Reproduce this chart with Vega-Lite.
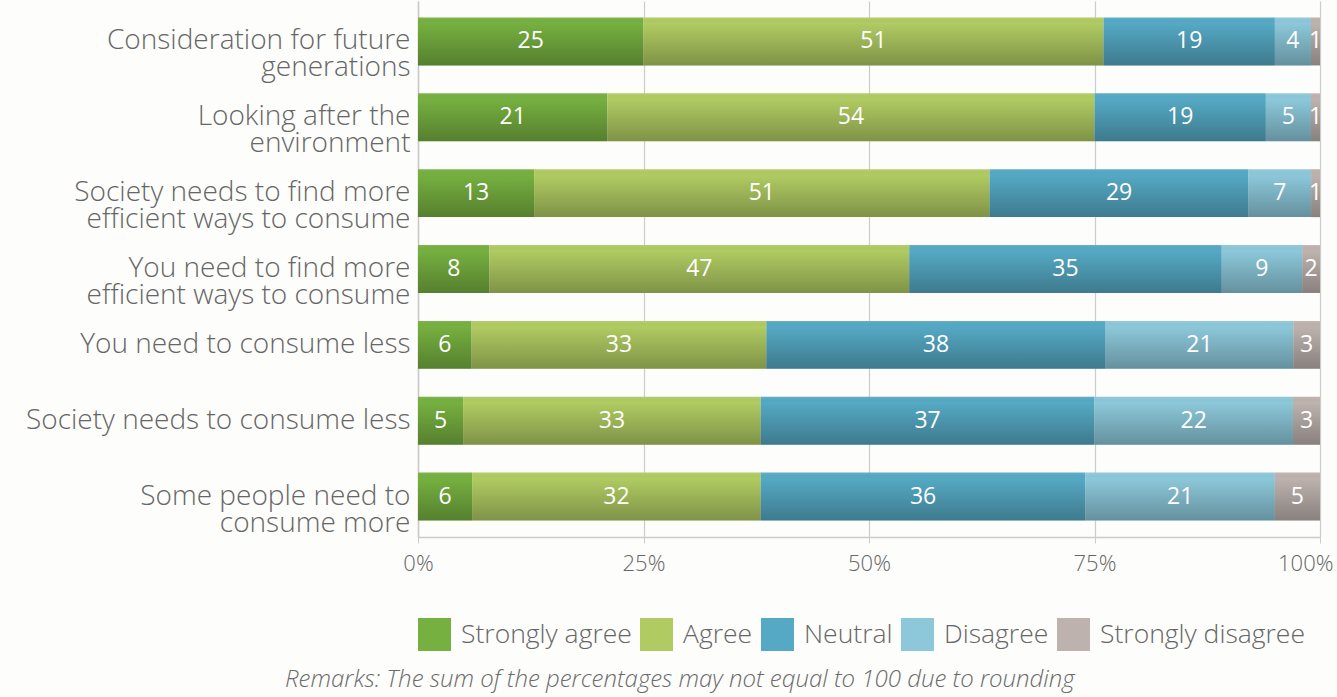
{
  "$schema": "https://vega.github.io/schema/vega-lite/v6.json",
  "width": 902,
  "height": 536,
  "autosize": {"type": "none"},
  "padding": {"left": 418, "top": 1, "right": 17, "bottom": 160},
  "background": "#fdfdfb",
  "title": {
    "text": "Remarks: The sum of the percentages may not equal to 100 due to rounding",
    "orient": "bottom", "anchor": "start", "frame": "group",
    "dx": -133, "offset": 17,
    "font": "Open Sans", "fontSize": 24, "fontStyle": "italic", "fontWeight": 300, "color": "#6b6b6b"
  },
  "config": {"view": {"stroke": null}},
  "data": {"values": [
    {"statement": "Consideration for future generations", "response": "Strongly agree", "pct": 25, "k": 1},
    {"statement": "Consideration for future generations", "response": "Agree", "pct": 51, "k": 2},
    {"statement": "Consideration for future generations", "response": "Neutral", "pct": 19, "k": 3},
    {"statement": "Consideration for future generations", "response": "Disagree", "pct": 4, "k": 4},
    {"statement": "Consideration for future generations", "response": "Strongly disagree", "pct": 1, "k": 5},
    {"statement": "Looking after the environment", "response": "Strongly agree", "pct": 21, "k": 1},
    {"statement": "Looking after the environment", "response": "Agree", "pct": 54, "k": 2},
    {"statement": "Looking after the environment", "response": "Neutral", "pct": 19, "k": 3},
    {"statement": "Looking after the environment", "response": "Disagree", "pct": 5, "k": 4},
    {"statement": "Looking after the environment", "response": "Strongly disagree", "pct": 1, "k": 5},
    {"statement": "Society needs to find more efficient ways to consume", "response": "Strongly agree", "pct": 13, "k": 1},
    {"statement": "Society needs to find more efficient ways to consume", "response": "Agree", "pct": 51, "k": 2},
    {"statement": "Society needs to find more efficient ways to consume", "response": "Neutral", "pct": 29, "k": 3},
    {"statement": "Society needs to find more efficient ways to consume", "response": "Disagree", "pct": 7, "k": 4},
    {"statement": "Society needs to find more efficient ways to consume", "response": "Strongly disagree", "pct": 1, "k": 5},
    {"statement": "You need to find more efficient ways to consume", "response": "Strongly agree", "pct": 8, "k": 1},
    {"statement": "You need to find more efficient ways to consume", "response": "Agree", "pct": 47, "k": 2},
    {"statement": "You need to find more efficient ways to consume", "response": "Neutral", "pct": 35, "k": 3},
    {"statement": "You need to find more efficient ways to consume", "response": "Disagree", "pct": 9, "k": 4},
    {"statement": "You need to find more efficient ways to consume", "response": "Strongly disagree", "pct": 2, "k": 5},
    {"statement": "You need to consume less", "response": "Strongly agree", "pct": 6, "k": 1},
    {"statement": "You need to consume less", "response": "Agree", "pct": 33, "k": 2},
    {"statement": "You need to consume less", "response": "Neutral", "pct": 38, "k": 3},
    {"statement": "You need to consume less", "response": "Disagree", "pct": 21, "k": 4},
    {"statement": "You need to consume less", "response": "Strongly disagree", "pct": 3, "k": 5},
    {"statement": "Society needs to consume less", "response": "Strongly agree", "pct": 5, "k": 1},
    {"statement": "Society needs to consume less", "response": "Agree", "pct": 33, "k": 2},
    {"statement": "Society needs to consume less", "response": "Neutral", "pct": 37, "k": 3},
    {"statement": "Society needs to consume less", "response": "Disagree", "pct": 22, "k": 4},
    {"statement": "Society needs to consume less", "response": "Strongly disagree", "pct": 3, "k": 5},
    {"statement": "Some people need to consume more", "response": "Strongly agree", "pct": 6, "k": 1},
    {"statement": "Some people need to consume more", "response": "Agree", "pct": 32, "k": 2},
    {"statement": "Some people need to consume more", "response": "Neutral", "pct": 36, "k": 3},
    {"statement": "Some people need to consume more", "response": "Disagree", "pct": 21, "k": 4},
    {"statement": "Some people need to consume more", "response": "Strongly disagree", "pct": 5, "k": 5}
  ]},
  "encoding": {
    "y": {
      "field": "statement", "type": "nominal",
      "sort": ["Consideration for future generations", "Looking after the environment", "Society needs to find more efficient ways to consume", "You need to find more efficient ways to consume", "You need to consume less", "Society needs to consume less", "Some people need to consume more"],
      "scale": {"paddingInner": 0.368, "paddingOuter": 0.217},
      "axis": {
        "title": null, "ticks": false, "domain": true, "domainColor": "#c8c8c8", "domainWidth": 1.5,
        "labelFont": "Open Sans", "labelFontSize": 28, "labelFontWeight": 300, "labelColor": "#666666",
        "labelPadding": 8, "labelLimit": 420, "labelLineHeight": 27,
        "labelExpr": "datum.value == 'Consideration for future generations' ? ['Consideration for future','generations'] : datum.value == 'Looking after the environment' ? ['Looking after the','environment'] : datum.value == 'Society needs to find more efficient ways to consume' ? ['Society needs to find more','efficient ways to consume'] : datum.value == 'You need to find more efficient ways to consume' ? ['You need to find more','efficient ways to consume'] : datum.value == 'Some people need to consume more' ? ['Some people need to','consume more'] : datum.label"
      }
    }
  },
  "layer": [
    {
      "mark": {"type": "bar"},
      "encoding": {
        "x": {
          "field": "pct", "type": "quantitative", "stack": "normalize",
          "scale": {"domain": [0, 1], "nice": false},
          "axis": {
            "title": null, "format": ".0%", "values": [0, 0.25, 0.5, 0.75, 1],
            "grid": true, "gridColor": "#cccccc", "gridWidth": 1.2,
            "domain": true, "domainColor": "#cccccc", "domainWidth": 1.5,
            "ticks": true, "tickColor": "#cccccc", "tickSize": 6,
            "labelFont": "Open Sans", "labelFontSize": 22, "labelFontWeight": 300, "labelColor": "#666666",
            "labelPadding": 10, "labelOverlap": false, "labelBound": false, "labelFlush": false,
            "labelAlign": {"expr": "datum.value == 1 ? 'right' : 'center'"},
            "labelOffset": {"expr": "datum.value == 1 ? 13 : 0"}
          }
        },
        "color": {
          "field": "response", "type": "nominal",
          "scale": {
            "domain": ["Strongly agree", "Agree", "Neutral", "Disagree", "Strongly disagree"],
            "range": ["#76b040", "#b0cb62", "#55a9c4", "#8cc8da", "#bdb2ae"]
          },
          "legend": {
            "title": null, "orient": "none", "legendX": 0, "legendY": 617, "direction": "horizontal",
            "symbolType": "square", "symbolSize": 1089, "symbolStrokeWidth": 0,
            "labelFont": "Open Sans", "labelFontSize": 26.5, "labelFontWeight": 300, "labelColor": "#666666",
            "labelLimit": 300, "labelOffset": 10, "columnPadding": 8
          }
        },
        "order": {"field": "k", "type": "quantitative"}
      }
    },
    {
      "mark": {
        "type": "bar",
        "fill": {"gradient": "linear", "x1": 0, "y1": 0, "x2": 0, "y2": 1,
          "stops": [
            {"offset": 0, "color": "rgba(255,255,255,0.08)"},
            {"offset": 0.12, "color": "rgba(0,0,0,0)"},
            {"offset": 1, "color": "rgba(0,0,0,0.28)"}
          ]}
      },
      "encoding": {
        "x": {"field": "pct", "type": "quantitative", "stack": "normalize"},
        "detail": {"field": "response", "type": "nominal"},
        "order": {"field": "k", "type": "quantitative"}
      }
    },
    {
      "mark": {"type": "text", "color": "white", "font": "Open Sans", "fontSize": 23, "fontWeight": 400},
      "encoding": {
        "x": {"field": "pct", "type": "quantitative", "stack": "normalize", "bandPosition": 0.5},
        "detail": {"field": "response", "type": "nominal"},
        "order": {"field": "k", "type": "quantitative"},
        "text": {"field": "pct", "type": "quantitative"}
      }
    }
  ]
}
